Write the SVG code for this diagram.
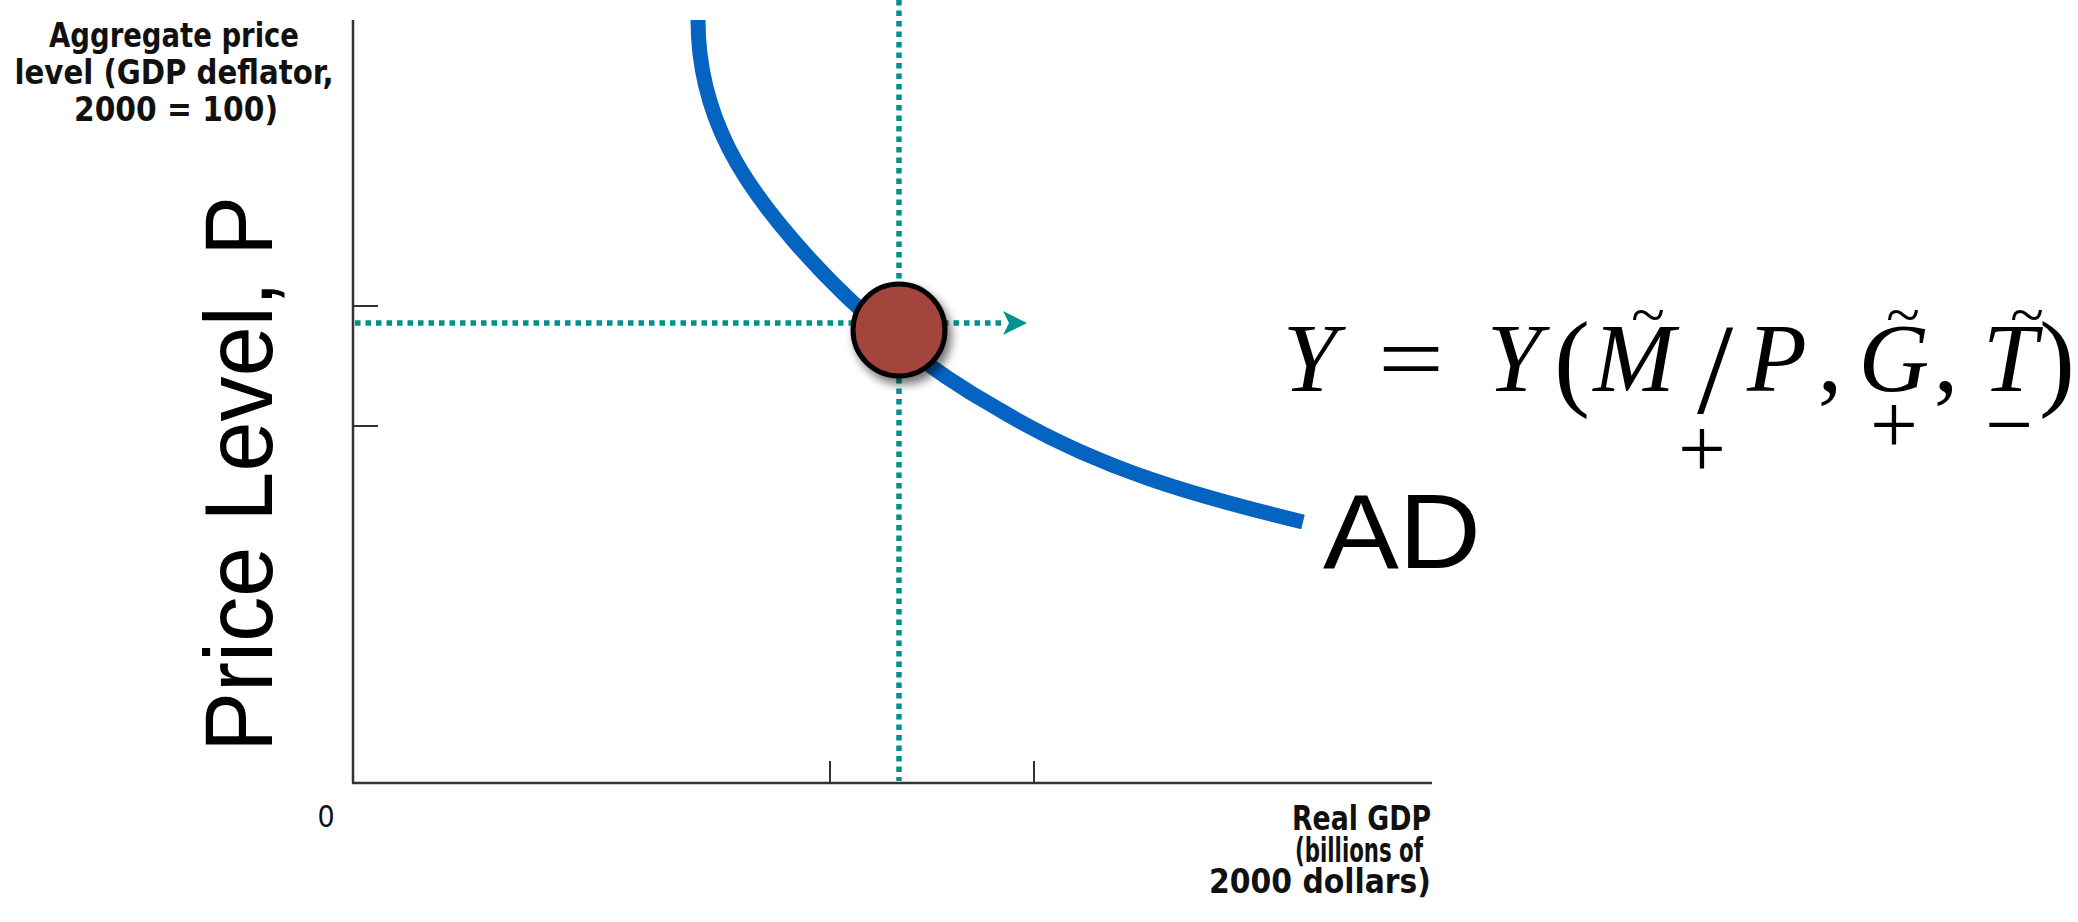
<svg xmlns="http://www.w3.org/2000/svg" width="2078" height="922" viewBox="0 0 2078 922">
<style>
.axis{stroke:#333;stroke-width:2.5;fill:none}
.tick{stroke:#333;stroke-width:2;fill:none}
.dot{stroke:#00928c;stroke-width:5.5;stroke-dasharray:5.5 5;fill:none}
.curve{stroke:#0563c1;stroke-width:15;fill:none;stroke-linecap:butt}
.lab{font-family:"DejaVu Sans Condensed","DejaVu Sans",sans-serif;font-weight:bold;font-size:33px;fill:#111}
.big{font-family:"Liberation Sans",Arial,sans-serif;fill:#000}
.mi{font-family:"Liberation Serif","Times New Roman",serif;font-style:italic;fill:#000;text-anchor:middle}
.mr{font-family:"Liberation Serif","Times New Roman",serif;fill:#000;text-anchor:middle}
</style>
<defs>
<marker id="arr" viewBox="0 0 24 24" refX="2" refY="12" markerWidth="24" markerHeight="24" markerUnits="userSpaceOnUse" orient="auto">
<path d="M0,0 L24,12 L0,24 L6,12 Z" fill="#00928c"/>
</marker>
<filter id="sh" x="-40%" y="-40%" width="180%" height="180%">
<feDropShadow dx="4" dy="6" stdDeviation="5" flood-color="#000" flood-opacity="0.55"/>
</filter>
</defs>
<rect width="2078" height="922" fill="#fff"/>

<g id="axes">
<line class="axis" x1="353" y1="20" x2="353" y2="783"/>
<line class="axis" x1="352" y1="783" x2="1432" y2="783"/>
<line class="tick" x1="353" y1="306" x2="378" y2="306"/>
<line class="tick" x1="353" y1="426" x2="378" y2="426"/>
<line class="tick" x1="830" y1="761" x2="830" y2="783"/>
<line class="tick" x1="1034" y1="761" x2="1034" y2="783"/>
</g>

<g id="connectors">
<line class="dot" x1="899" y1="0" x2="899" y2="781"/>
<line class="dot" x1="355" y1="323" x2="1005" y2="323" marker-end="url(#arr)"/>
</g>

<g id="ad-curve">
<path class="curve" d="M698,20 C698,120 748,188 793,240 C860,318 930,371 1000,410 C1100,470 1200,497 1303,522"/>
</g>

<g id="equilibrium-point">
<circle cx="899" cy="330" r="46" fill="#a4443e" stroke="#000" stroke-width="5" filter="url(#sh)"/>
</g>

<g id="y-axis-label">
<text class="lab" x="174" y="47" text-anchor="middle" textLength="250" lengthAdjust="spacingAndGlyphs">Aggregate price</text>
<text class="lab" x="174" y="84" text-anchor="middle" textLength="319" lengthAdjust="spacingAndGlyphs">level (GDP deflator,</text>
<text class="lab" x="176" y="121" text-anchor="middle" textLength="204" lengthAdjust="spacingAndGlyphs">2000 = 100)</text>
</g>

<g id="x-axis-label">
<text class="lab" x="1431" y="830" text-anchor="end" textLength="139" lengthAdjust="spacingAndGlyphs">Real GDP</text>
<text class="lab" x="1423" y="862" text-anchor="end" textLength="128" lengthAdjust="spacingAndGlyphs">(billions of</text>
<text class="lab" x="1431" y="893" text-anchor="end" textLength="222" lengthAdjust="spacingAndGlyphs">2000 dollars)</text>
</g>

<g id="origin">
<text x="326" y="827" text-anchor="middle" font-family="DejaVu Sans Condensed, DejaVu Sans, sans-serif" font-size="30" fill="#111">0</text>
</g>

<g id="price-level-label">
<text class="big" transform="translate(272,474) rotate(-90)" text-anchor="middle" font-size="96" textLength="556" lengthAdjust="spacingAndGlyphs">Price Level, P</text>
</g>

<g id="ad-label">
<text class="big" x="1323" y="568" font-size="106" textLength="158" lengthAdjust="spacingAndGlyphs">AD</text>
</g>

<g id="formula">
<text class="mi" x="1310" y="391" style="font-size:98px">Y</text>
<text class="mr" x="1411" y="391" style="font-size:98px" textLength="66" lengthAdjust="spacingAndGlyphs">=</text>
<text class="mi" x="1514" y="391" style="font-size:98px">Y</text>
<text class="mr" x="1572" y="396" style="font-size:108px">(</text>
<text class="mi" x="1634" y="391" style="font-size:98px">M</text>
<text class="mr" x="1648" y="335" style="font-size:62px">~</text>
<text class="mr" x="1715" y="413" style="font-size:130px">/</text>
<text class="mi" x="1777" y="391" style="font-size:98px">P</text>
<text class="mr" x="1830" y="391" style="font-size:98px">,</text>
<text class="mi" x="1894" y="391" style="font-size:98px">G</text>
<text class="mr" x="1903" y="335" style="font-size:62px">~</text>
<text class="mr" x="1946" y="391" style="font-size:98px">,</text>
<text class="mi" x="2010" y="391" style="font-size:98px">T</text>
<text class="mr" x="2027" y="335" style="font-size:62px">~</text>
<text class="mr" x="2057" y="396" style="font-size:108px">)</text>
<text class="mr" x="1702" y="477" style="font-size:85px">+</text>
<text class="mr" x="1894" y="453" style="font-size:85px">+</text>
<text class="mr" x="2009" y="453" style="font-size:85px">−</text>
</g>
</svg>
